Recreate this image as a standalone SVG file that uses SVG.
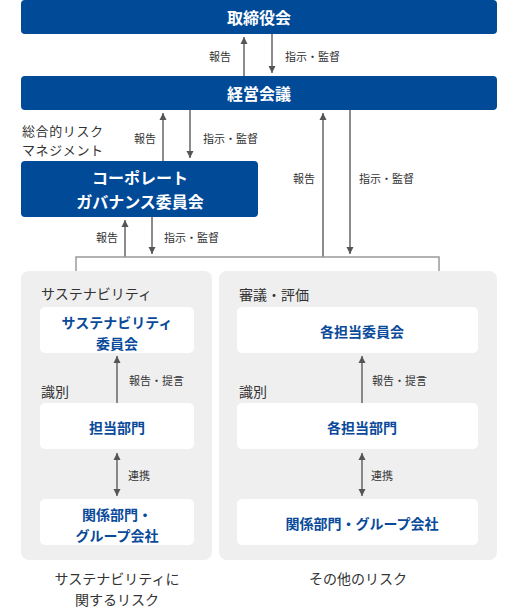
<svg xmlns="http://www.w3.org/2000/svg" width="519" height="612" viewBox="0 0 519 612">
<defs>
<style>
text{font-family:"Noto Sans CJK JP","Noto Sans",sans-serif;dominant-baseline:central}
.blue{fill:#004a98}
.wt{fill:#fff;font-weight:bold;font-size:16px;text-anchor:middle}
.panel{fill:#efefef}
.wbox{fill:#fff}
.bt{fill:#0a4a9a;font-weight:bold;font-size:14px;text-anchor:middle}
.lbl{fill:#333;font-size:11px}
.hd{fill:#333;font-size:14px}
.rm{fill:#333;font-size:13px;letter-spacing:0.6px}
.cap{fill:#333;font-size:14px;text-anchor:middle}
.arr{stroke:#666;stroke-width:1.5;fill:none}
.con{stroke:#999;stroke-width:1.5;fill:none}
</style>
<marker id="ah" viewBox="0 0 10 10" refX="10" refY="5" markerWidth="7" markerHeight="10" markerUnits="userSpaceOnUse" orient="auto-start-reverse">
<path d="M0,0 L10,5 L0,10 z" fill="#555"/>
</marker>
</defs>

<g id="board">
<rect class="blue" x="21" y="0" width="476" height="34" rx="4"/>
<text class="wt" x="259" y="17">取締役会</text>
</g>
<g id="mgmt">
<rect class="blue" x="21" y="76" width="476" height="34" rx="4"/>
<text class="wt" x="259" y="93">経営会議</text>
</g>
<g id="rm-label">
<text class="rm" x="22" y="130">総合的リスク<tspan x="22" dy="19">マネジメント</tspan></text>
</g>
<g id="cg">
<rect class="blue" x="21" y="161" width="237" height="56" rx="4"/>
<text class="wt" x="140" y="176.5">コーポレート<tspan x="140" dy="24">ガバナンス委員会</tspan></text>
</g>

<g id="panel-left">
<rect class="panel" x="21" y="271" width="191" height="289" rx="8"/>
<text class="hd" x="41" y="293">サステナビリティ</text>
<text class="hd" x="41" y="391">識別</text>
</g>
<g id="panel-right">
<rect class="panel" x="219" y="271" width="278" height="289" rx="8"/>
<text class="hd" x="239" y="294">審議・評価</text>
<text class="hd" x="239" y="391">識別</text>
</g>

<g id="sus-committee">
<rect class="wbox" x="40" y="307" width="154" height="46" rx="5"/>
<text class="bt" x="117" y="321.5">サステナビリティ<tspan x="117" dy="21">委員会</tspan></text>
</g>
<g id="sus-dept">
<rect class="wbox" x="40" y="403" width="154" height="46" rx="5"/>
<text class="bt" x="117" y="427">担当部門</text>
</g>
<g id="sus-related">
<rect class="wbox" x="40" y="499" width="154" height="46" rx="5"/>
<text class="bt" x="117" y="513.5">関係部門・<tspan x="117" dy="21">グループ会社</tspan></text>
</g>
<g id="oth-committee">
<rect class="wbox" x="237" y="307" width="241" height="46" rx="5"/>
<text class="bt" x="362" y="331">各担当委員会</text>
</g>
<g id="oth-dept">
<rect class="wbox" x="237" y="403" width="241" height="46" rx="5"/>
<text class="bt" x="362" y="427">各担当部門</text>
</g>
<g id="oth-related">
<rect class="wbox" x="237" y="499" width="241" height="46" rx="5"/>
<text class="bt" x="362" y="523">関係部門・グループ会社</text>
</g>

<g id="captions">
<text class="cap" x="117" y="577.5">サステナビリティに<tspan x="117" dy="21">関するリスク</tspan></text>
<text class="cap" x="358" y="578">その他のリスク</text>
</g>

<g id="connectors">
<line class="arr" x1="244" y1="76" x2="244" y2="37" marker-end="url(#ah)"/>
<line class="arr" x1="272" y1="34" x2="272" y2="73" marker-end="url(#ah)"/>
<text class="lbl" x="231" y="56" text-anchor="end">報告</text>
<text class="lbl" x="285" y="56">指示・監督</text>

<line class="arr" x1="163" y1="161" x2="163" y2="113" marker-end="url(#ah)"/>
<line class="arr" x1="190" y1="110" x2="190" y2="158" marker-end="url(#ah)"/>
<text class="lbl" x="156" y="138" text-anchor="end">報告</text>
<text class="lbl" x="203" y="138">指示・監督</text>

<line class="arr" x1="323" y1="257" x2="323" y2="113" marker-end="url(#ah)"/>
<line class="arr" x1="350" y1="110" x2="350" y2="254" marker-end="url(#ah)"/>
<text class="lbl" x="315" y="178" text-anchor="end">報告</text>
<text class="lbl" x="359" y="178">指示・監督</text>

<line class="arr" x1="125" y1="257" x2="125" y2="220" marker-end="url(#ah)"/>
<line class="arr" x1="152" y1="217" x2="152" y2="254" marker-end="url(#ah)"/>
<text class="lbl" x="118" y="237" text-anchor="end">報告</text>
<text class="lbl" x="164" y="237">指示・監督</text>

<path class="con" d="M76,271 V257 H439 V271"/>

<line class="arr" x1="117" y1="403" x2="117" y2="356" marker-end="url(#ah)"/>
<text class="lbl" x="129" y="380">報告・提言</text>
<line class="arr" x1="117" y1="453" x2="117" y2="496" marker-start="url(#ah)" marker-end="url(#ah)"/>
<text class="lbl" x="128" y="475">連携</text>

<line class="arr" x1="362" y1="403" x2="362" y2="356" marker-end="url(#ah)"/>
<text class="lbl" x="372" y="380">報告・提言</text>
<line class="arr" x1="362" y1="453" x2="362" y2="496" marker-start="url(#ah)" marker-end="url(#ah)"/>
<text class="lbl" x="371" y="475">連携</text>
</g>
</svg>
